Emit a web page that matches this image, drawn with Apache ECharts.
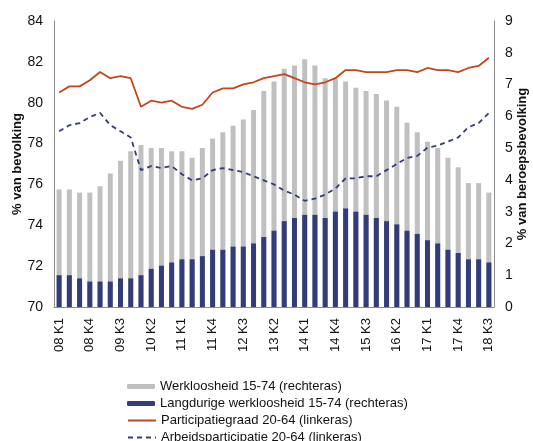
<!DOCTYPE html>
<html>
<head>
<meta charset="utf-8">
<script src="https://cdn.jsdelivr.net/npm/echarts@6/dist/echarts.min.js"></script>
<style>
  html, body { margin: 0; padding: 0; background: #fff; }
  #chart { width: 533px; height: 441px; }
</style>
</head>
<body>
<div id="chart"></div>
<script>
var quarters = [
  "08 K1","08 K2","08 K3","08 K4","09 K1","09 K2","09 K3","09 K4",
  "10 K1","10 K2","10 K3","10 K4","11 K1","11 K2","11 K3","11 K4",
  "12 K1","12 K2","12 K3","12 K4","13 K1","13 K2","13 K3","13 K4",
  "14 K1","14 K2","14 K3","14 K4","15 K1","15 K2","15 K3","15 K4",
  "16 K1","16 K2","16 K3","16 K4","17 K1","17 K2","17 K3","17 K4",
  "18 K1","18 K2","18 K3"
];

// rechteras (% van beroepsbevolking)
var werkloosheid = [
  3.7, 3.7, 3.6, 3.6, 3.8, 4.2, 4.6, 4.9, 5.1, 5.0, 5.0, 4.9, 4.9, 4.7, 5.0, 5.3,
  5.5, 5.7, 5.9, 6.2, 6.8, 7.1, 7.5, 7.6, 7.8, 7.6, 7.2, 7.2, 7.1, 6.9, 6.8, 6.7,
  6.5, 6.3, 5.8, 5.5, 5.2, 5.0, 4.7, 4.4, 3.9, 3.9, 3.6
];
var langdurig = [
  1.0, 1.0, 0.9, 0.8, 0.8, 0.8, 0.9, 0.9, 1.0, 1.2, 1.3, 1.4, 1.5, 1.5, 1.6, 1.8,
  1.8, 1.9, 1.9, 2.0, 2.2, 2.4, 2.7, 2.8, 2.9, 2.9, 2.8, 3.0, 3.1, 3.0, 2.9, 2.8,
  2.7, 2.6, 2.4, 2.3, 2.1, 2.0, 1.8, 1.7, 1.5, 1.5, 1.4
];

// linkeras (% van bevolking)
var participatiegraad = [
  80.5, 80.8, 80.8, 81.1, 81.5, 81.2, 81.3, 81.2, 79.8, 80.1, 80.0, 80.1, 79.8, 79.7, 79.9, 80.5,
  80.7, 80.7, 80.9, 81.0, 81.2, 81.3, 81.4, 81.2, 81.0, 80.9, 81.0, 81.2, 81.6, 81.6, 81.5, 81.5,
  81.5, 81.6, 81.6, 81.5, 81.7, 81.6, 81.6, 81.5, 81.7, 81.8, 82.2
];
var arbeidsparticipatie = [
  78.6, 78.9, 79.0, 79.3, 79.5, 78.9, 78.6, 78.3, 76.7, 76.9, 76.8, 76.9, 76.5, 76.2, 76.3, 76.7,
  76.8, 76.7, 76.6, 76.4, 76.2, 76.0, 75.7, 75.5, 75.2, 75.3, 75.5, 75.8, 76.3, 76.3, 76.4, 76.4,
  76.7, 77.0, 77.3, 77.4, 77.8, 77.9, 78.1, 78.3, 78.8, 79.0, 79.5
];

var names = [
  "Werkloosheid 15-74 (rechteras)",
  "Langdurige werkloosheid 15-74 (rechteras)",
  "Participatiegraad 20-64 (linkeras)",
  "Arbeidsparticipatie 20-64 (linkeras)"
];

var FONT = "Liberation Sans, Arial, sans-serif";
var GREY = "#c0c0c0", NAVY = "#323c7a", RUST = "#c2461c", AXIS = "#8c8c8c";

function legendRow(name, top, iconH, hideSymbol) {
  return {
    data: [name],
    left: 127,
    top: top,
    padding: 0,
    itemWidth: 28,
    itemHeight: iconH,
    selectedMode: false,
    itemStyle: hideSymbol ? { opacity: 0 } : {},
    textStyle: { fontFamily: FONT, fontSize: 13, color: "#111" }
  };
}

var chart = echarts.init(document.getElementById("chart"), null, { renderer: "canvas" });

chart.setOption({
  animation: false,
  textStyle: { fontFamily: FONT },
  grid: { left: 54, right: 39, top: 21, bottom: 134, outerBoundsMode: "none" },
  legend: [
    legendRow(names[0], 380, 5, false),
    legendRow(names[1], 397, 5, false),
    legendRow(names[2], 414, 10, true),
    legendRow(names[3], 431, 10, true)
  ],
  xAxis: {
    type: "category",
    data: quarters,
    boundaryGap: true,
    axisLine: { lineStyle: { color: AXIS } },
    axisTick: { show: false },
    axisLabel: {
      interval: 2,
      rotate: 90,
      margin: 11,
      fontSize: 13,
      color: "#111"
    }
  },
  yAxis: [
    {
      type: "value",
      min: 70, max: 84, interval: 2,
      name: "% van bevolking",
      nameLocation: "middle",
      nameRotate: 90,
      nameGap: 30,
      nameMoveOverlap: false,
      nameTextStyle: { fontSize: 13, fontWeight: "bold", color: "#111" },
      axisLine: { show: true, lineStyle: { color: AXIS } },
      axisTick: { show: false },
      splitLine: { show: false },
      axisLabel: { fontSize: 14, color: "#111", margin: 11 }
    },
    {
      type: "value",
      min: 0, max: 9, interval: 1,
      name: "% van beroepsbevolking",
      nameLocation: "middle",
      nameRotate: 90,
      nameGap: 22,
      nameMoveOverlap: false,
      nameTextStyle: { fontSize: 13, fontWeight: "bold", color: "#111" },
      axisLine: { show: true, lineStyle: { color: AXIS } },
      axisTick: { show: false },
      splitLine: { show: false },
      axisLabel: { fontSize: 14, color: "#111", margin: 11 }
    }
  ],
  series: [
    {
      name: names[0], type: "bar", yAxisIndex: 1,
      data: werkloosheid, barWidth: 5, barGap: "-100%",
      itemStyle: { color: GREY }
    },
    {
      name: names[1], type: "bar", yAxisIndex: 1,
      data: langdurig, barWidth: 5, barGap: "-100%",
      itemStyle: { color: NAVY }
    },
    {
      name: names[2], type: "line", yAxisIndex: 0,
      data: participatiegraad, symbol: "none",
      lineStyle: { color: RUST, width: 1.8 },
      itemStyle: { color: RUST }
    },
    {
      name: names[3], type: "line", yAxisIndex: 0,
      data: arbeidsparticipatie, symbol: "none",
      lineStyle: { color: NAVY, width: 1.8, type: [5, 4] },
      itemStyle: { color: NAVY }
    }
  ]
});
</script>
</body>
</html>
